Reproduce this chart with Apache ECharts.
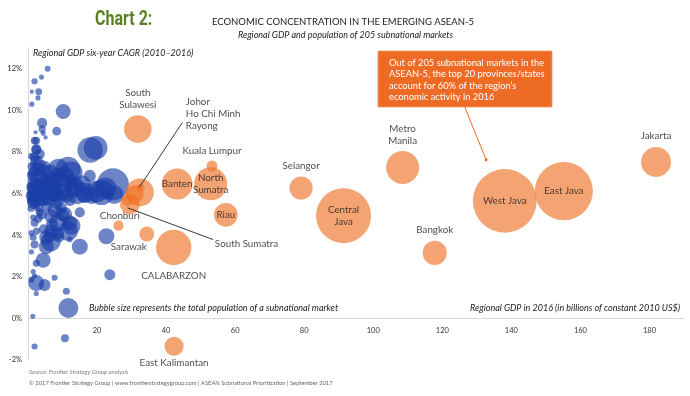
<!DOCTYPE html>
<html>
<head>
<meta charset="utf-8">
<script src="https://cdn.jsdelivr.net/npm/echarts@6/dist/echarts.min.js"></script>
<style>
  html, body { margin: 0; padding: 0; background: #fff; }
  #chart { width: 690px; height: 396px; }
</style>
</head>
<body>
<div id="chart"></div>
<script>
// every market is [GDP 2016 (bn constant 2010 US$), six-year CAGR (%), population (m)]
const otherMarkets = [
  // scattered high-growth markets
  [5.7, 12.0, 0.4], [3.9, 11.6, 0.3], [1.9, 11.4, 0.45], [1.1, 10.9, 0.2], [3.1, 10.9, 0.55],
  [2.9, 10.6, 0.3], [1.1, 10.3, 0.3], [10.2, 9.95, 2.6], [4.1, 9.4, 1.2], [4.1, 9.1, 0.6],
  [2.2, 8.95, 0.2], [8.3, 9.0, 0.9], [5.1, 8.7, 0.2], [1.9, 8.55, 0.7], [2.4, 8.55, 0.7],
  [4.4, 8.9, 0.3], [2.4, 8.14, 1.2], [3.4, 7.9, 1.2],
  // upper cluster
  [18.0, 8.1, 7.5], [19.6, 8.2, 6.5], [2.4, 8.1, 1.1], [1.9, 7.75, 1.1], [1.0, 7.8, 0.5],
  [3.0, 7.6, 0.9], [1.5, 7.4, 0.5], [2.5, 7.3, 0.8], [4.0, 7.45, 0.6], [1.0, 7.0, 0.6],
  [8.8, 7.2, 4.6], [11.6, 7.17, 7.2], [12.5, 7.0, 6.0], [10.5, 6.8, 5.0], [6.5, 7.0, 3.0],
  [4.5, 7.1, 2.0], [2.0, 7.1, 1.5], [3.5, 6.8, 2.5], [5.5, 6.6, 3.5], [7.5, 6.5, 4.0],
  [9.2, 6.4, 7.2], [1.2, 6.6, 1.0], [2.8, 6.4, 2.0], [4.5, 6.3, 3.0], [6.2, 6.2, 3.8],
  [1.0, 6.2, 0.9], [2.0, 6.0, 2.2], [3.3, 6.0, 3.0], [5.0, 5.9, 4.6], [0.8, 5.9, 1.2],
  [1.5, 5.8, 1.7], [2.6, 5.75, 2.2], [4.0, 5.7, 2.0], [6.5, 5.8, 3.0], [8.0, 6.0, 3.5],
  [10.0, 6.1, 3.8], [0.6, 6.0, 0.5], [0.7, 6.4, 0.6], [0.5, 5.7, 0.4], [1.4, 5.5, 1.2],
  [3.0, 5.35, 1.0], [0.8, 6.9, 0.7], [1.6, 6.8, 1.1], [3.0, 7.0, 1.4], [2.2, 6.5, 1.6],
  [0.9, 5.6, 0.8], [2.2, 5.6, 1.3], [5.6, 6.1, 2.4], [7.2, 6.1, 2.8], [3.8, 6.5, 1.8],
  [1.2, 7.3, 1.0], [2.0, 7.6, 1.0], [3.2, 7.2, 1.6], [5.0, 7.3, 1.4], [6.8, 6.7, 2.6],
  [8.5, 6.9, 2.2], [1.1, 6.3, 1.4], [3.6, 6.25, 2.4], [5.2, 6.4, 2.0], [7.0, 5.95, 2.4],
  [0.9, 5.3, 0.6], [2.6, 5.9, 1.8], [4.2, 5.95, 2.5], [9.0, 5.8, 2.0], [11.0, 5.9, 2.4],
  // bubbles reaching out towards the orange markets
  [13.5, 6.3, 4.6], [14.3, 6.05, 6.0], [15.6, 6.45, 3.75], [16.4, 6.05, 4.6], [17.9, 6.85, 1.7],
  [19.9, 6.1, 5.6], [21.3, 6.05, 7.2], [22.4, 6.25, 5.6], [24.6, 6.45, 11.8], [12.1, 5.7, 1.7],
  [13.0, 6.2, 3.0], [16.5, 5.9, 2.5], [12.5, 6.6, 2.0], [18.5, 5.9, 3.2], [25.0, 5.95, 4.0],
  // lower cluster
  [15.0, 5.1, 1.2], [10.6, 5.0, 2.6], [7.7, 5.2, 2.3], [6.8, 4.9, 2.3], [12.1, 4.6, 2.6],
  [12.6, 4.45, 3.75], [8.7, 4.6, 3.75], [11.6, 4.2, 4.6], [6.8, 4.2, 2.3], [8.7, 4.1, 1.7],
  [1.9, 4.6, 0.74], [1.5, 4.85, 0.42], [2.4, 5.4, 0.57], [1.0, 4.1, 0.42], [1.5, 3.9, 0.57],
  [1.9, 3.55, 0.74], [1.0, 3.2, 0.3], [5.3, 3.9, 2.3], [6.6, 3.7, 4.6], [5.3, 3.45, 2.6],
  [12.1, 3.8, 0.42], [15.0, 3.45, 2.96], [22.7, 3.95, 2.96], [4.0, 5.0, 1.2], [5.5, 5.4, 1.5],
  [8.5, 5.5, 1.3], [10.0, 5.0, 2.0], [7.0, 4.5, 1.8], [4.5, 4.3, 1.0], [3.0, 4.8, 0.8],
  [2.5, 4.2, 0.6], [9.0, 3.9, 1.2], [6.5, 4.0, 2.2], [3.4, 5.1, 0.8], [9.6, 5.3, 1.5],
  // low-growth markets
  [4.4, 2.8, 2.6], [2.4, 2.65, 0.57], [1.5, 2.25, 0.3], [1.9, 2.05, 0.3], [1.0, 1.86, 0.42],
  [2.4, 1.7, 2.96], [4.8, 1.6, 1.67], [2.4, 1.2, 0.3], [7.7, 1.95, 0.42], [11.1, 1.3, 0.57],
  [23.7, 2.1, 1.4], [11.7, 0.5, 4.6], [1.4, 0.1, 0.3], [10.7, -0.95, 0.74], [1.9, -1.35, 0.42]
];

// the top 20 (plus one unlabelled) markets, drawn in orange
const topNames = [
  'Jakarta', 'East Java', 'West Java', 'Bangkok', 'Metro Manila', 'Central Java', 'Selangor',
  'Kuala Lumpur', 'North Sumatra', 'Banten', 'Riau', 'CALABARZON', 'Sarawak', '',
  'South Sulawesi', 'South Sumatra', 'Chonburi', 'Johor', 'Ho Chi Minh', 'Rayong', 'East Kalimantan'
];
const topGdp = [181.9, 155.2, 138.1, 117.8, 108.5, 91.4, 79.1, 53.3, 52.9, 43.2, 57.3, 42.2, 34.4, 26.2,
  31.8, 29.5, 28.9, 30.9, 32.4, 32.6, 42.3];
const topCagr = [7.52, 6.12, 5.65, 3.15, 7.26, 4.94, 6.27, 7.33, 6.47, 6.46, 4.98, 3.41, 4.06, 4.46,
  9.1, 5.48, 5.7, 5.97, 6.06, 6.3, -1.34];
const topPop = [10.4, 39, 47, 6.7, 12.6, 35, 6.2, 1.4, 12.6, 11, 6.5, 14.5, 2.6, 1.2,
  8.8, 4.6, 1.7, 3.7, 9, 0.7, 4.2];

// leader lines, in data units
const johorLeader = [[44.75, 9.43], [32.2, 6.29]];
const sumatraLeader = [[28.8, 5.32], [53.6, 3.79]];
const calloutLeader = [[126.4, 10.2], [132.7, 7.62]];

const FONT = 'Lato';
const bubble = (v) => 9.3 * Math.sqrt(v[2]);

const labelPlacement = {
  'Jakarta': { position: 'top', distance: 5 },
  'Bangkok': { position: 'top', distance: 5 },
  'Metro Manila': { position: 'top', distance: 4, text: 'Metro\nManila' },
  'Selangor': { position: 'top', distance: 5 },
  'Kuala Lumpur': { position: 'top', distance: 4 },
  'South Sulawesi': { position: 'top', distance: 4, text: 'South\nSulawesi' },
  'Central Java': { position: 'inside', text: 'Central\nJava' },
  'North Sumatra': { position: 'inside', text: 'North\nSumatra' },
  'CALABARZON': { position: 'bottom', distance: 5 },
  'East Kalimantan': { position: 'bottom', distance: 1 },
  'Sarawak': { position: 'inside', offset: [-18, 13] },
  'Chonburi': { position: 'inside', offset: [-8, 16] },
  'Ho Chi Minh': { position: 'inside', align: 'left', offset: [46, -79], text: 'Johor\nHo Chi Minh\nRayong' },
  'South Sumatra': { position: 'inside', align: 'left', offset: [85, 39] }
};
const hiddenLabels = ['', 'Johor', 'Rayong'];

const topData = topNames.map((name, i) => {
  const p = labelPlacement[name] || { position: 'inside' };
  return {
    name,
    value: [topGdp[i], topCagr[i], topPop[i]],
    label: {
      show: !hiddenLabels.includes(name),
      position: p.position,
      distance: p.distance || 5,
      offset: p.offset || [0, 0],
      align: p.align || 'center',
      formatter: p.text || name
    }
  };
});

const chart = echarts.init(document.getElementById('chart'), null, { renderer: 'canvas' });

const italic = (text, x, y, align, size, color) => ({
  type: 'text', x, y,
  style: { text, fontFamily: FONT, fontStyle: 'italic', fontSize: size || 9, fill: color || '#222',
    textAlign: align || 'left', textVerticalAlign: 'middle' }
});

// y = 0 sits 13/15 of the way down a 312px tall grid; move the x axis up onto it
const gridTop = 48, gridBottom = 36, gridHeight = 396 - gridTop - gridBottom;
const zeroOffset = -gridHeight * 2 / 15;

chart.setOption({
  animation: false,
  grid: { left: 28, right: 6, top: gridTop, bottom: gridBottom },
  xAxis: {
    type: 'value', min: 0, max: 190, interval: 20,
    offset: zeroOffset,
    axisLine: { onZero: false, lineStyle: { color: '#d9d9d9', width: 1.2 } },
    axisTick: { show: false },
    splitLine: { show: false },
    axisLabel: { fontFamily: FONT, fontSize: 7.5, color: '#333', margin: 8,
      showMinLabel: false, showMaxLabel: false }
  },
  yAxis: {
    type: 'value', min: -2, max: 13, interval: 2,
    axisLine: { show: true, lineStyle: { color: '#d9d9d9', width: 1.2 } },
    axisTick: { show: false },
    splitLine: { show: false },
    axisLabel: { fontFamily: FONT, fontSize: 7.5, color: '#333', margin: 6,
      formatter: '{value}%', showMaxLabel: false }
  },
  series: [
    {
      type: 'scatter',
      data: otherMarkets,
      symbolSize: bubble,
      silent: true,
      itemStyle: { color: 'rgba(26,62,168,0.8)' }
    },
    {
      type: 'scatter',
      data: topData,
      symbolSize: bubble,
      silent: true,
      itemStyle: { color: 'rgba(238,112,36,0.8)' },
      label: { fontFamily: FONT, fontSize: 9.8, color: '#1a1a1a', lineHeight: 12 },
      markLine: {
        silent: true,
        symbol: ['none', 'none'],
        label: { show: false },
        lineStyle: { color: '#222', width: 0.9, type: 'solid' },
        data: [
          [{ coord: johorLeader[0] }, { coord: johorLeader[1] }],
          [{ coord: sumatraLeader[0] }, { coord: sumatraLeader[1] }],
          [{ coord: calloutLeader[0], lineStyle: { color: '#ee6b25', width: 1 } },
           { coord: calloutLeader[1], symbol: 'circle', symbolSize: 3 }]
        ]
      }
    }
  ],
  graphic: [
    {
      type: 'text', x: 95, y: 10, scaleX: 0.8,
      style: { text: 'Chart 2:', x: 0, y: 0, fontFamily: 'Roboto', fontWeight: 'bold', fontSize: 20, fill: '#5b8022' }
    },
    {
      type: 'text', x: 343, y: 22,
      style: { text: 'ECONOMIC CONCENTRATION IN THE EMERGING ASEAN-5', fontFamily: FONT, fontSize: 9.5,
        fill: '#1a1a1a', textAlign: 'center', textVerticalAlign: 'middle' }
    },
    italic('Regional GDP and population of 205 subnational markets', 453, 35, 'right', 9),
    italic('Regional GDP six-year CAGR (2010\u20132016)', 33, 53, 'left', 9),
    italic('Bubble size represents the total population of a subnational market', 89, 308, 'left', 9),
    italic('Regional GDP in 2016 (in billions of constant 2010 US$)', 680, 308, 'right', 9),
    italic('Source: Frontier Strategy Group analysis', 29, 372, 'left', 6, '#7f7f7f'),
    {
      type: 'text', x: 29, y: 383,
      style: { text: '\u00a9 2017 Frontier Strategy Group | www.frontierstrategygroup.com | ASEAN Subnational Prioritization | September 2017',
        fontFamily: FONT, fontSize: 5.8, fill: '#666', textVerticalAlign: 'middle' }
    },
    {
      type: 'rect', shape: { x: 378, y: 51, width: 174, height: 56 },
      style: { fill: '#ee6b25', stroke: '#f39a66', lineWidth: 0.8 }
    },
    {
      type: 'text', x: 389, y: 57,
      style: { text: 'Out of 205 subnational markets in the\nASEAN-5, the top 20 provinces/states\naccount for 60% of the region\u2019s\neconomic activity in 2016',
        fontFamily: FONT, fontSize: 9.3, lineHeight: 11.5, fill: '#fff' }
    }
  ]
});
</script>
</body>
</html>
